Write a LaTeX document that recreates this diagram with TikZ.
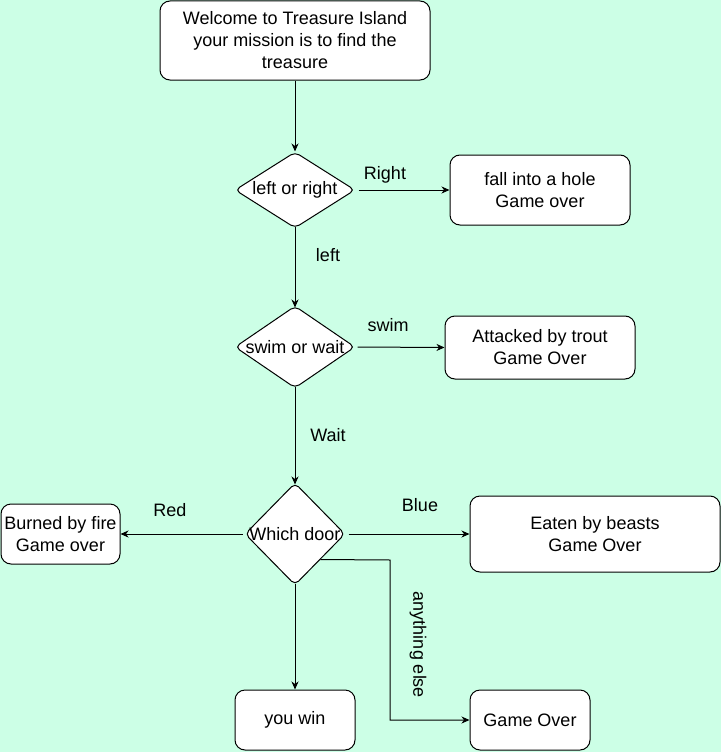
\documentclass[tikz,border=0pt]{standalone}
\usepackage{fontspec}
\setmainfont{Liberation Sans}
\usetikzlibrary{shapes.geometric,arrows.meta}
\definecolor{bgmint}{RGB}{204,255,230}
\begin{document}
\begin{tikzpicture}[x=1pt,y=-1pt,
  font=\fontsize{18}{22}\selectfont,
  box/.style={draw=black,fill=white,rounded corners=10pt,line width=1pt,align=center,inner sep=0pt},
  dec/.style={draw=black,fill=white,diamond,rounded corners=5pt,line width=1pt,inner sep=0pt},
  arr/.style={draw=black,line width=1pt,-{Stealth[length=8pt,width=7pt,inset=2.5pt]}},
  lbl/.style={inner sep=0pt}]
\fill[bgmint] (0,0) rectangle (721,752);
\useasboundingbox (0,0) rectangle (721,752);

\node[box,minimum width=270pt,minimum height=79pt] (welcome) at (295,40.5)
  {Welcome to Treasure Island\\your mission is to find the\\treasure};
\node[dec,minimum width=120pt,minimum height=76pt] (d1) at (295,190) {\makebox[0pt]{\raisebox{-1.5pt}{left or right}}};
\node[box,minimum width=180pt,minimum height=70pt] (hole) at (540,190) {fall into a hole\\Game over};
\node[dec,minimum width=120pt,minimum height=82pt] (d2) at (295,347) {\makebox[0pt]{swim or wait}};
\node[box,minimum width=190pt,minimum height=63pt] (trout) at (540,347.5) {Attacked by trout\\Game Over};
\node[dec,minimum width=100pt,minimum height=102pt] (d3) at (295,534) {\makebox[0pt]{Which door}};
\node[box,minimum width=119pt,minimum height=60pt] (fire) at (60.5,534) {Burned by fire\\Game over};
\node[box,minimum width=250pt,minimum height=76pt] (beasts) at (595,534) {Eaten by beasts\\Game Over};
\node[box,minimum width=120pt,minimum height=60pt] (win) at (295,720) {you win};
\node[box,minimum width=120pt,minimum height=60pt] (over) at (530,720) {Game Over};

\draw[arr] (welcome.south) -- (d1.north);
\draw[arr] ([xshift=3pt]d1.east) -- (hole.west);
\draw[arr] ([yshift=2pt]d1.south) -- ([yshift=-2pt]d2.north);
\draw[arr] ([xshift=2pt]d2.east) -- (trout.west);
\draw[arr] ([yshift=2pt]d2.south) -- ([yshift=-2pt]d3.north);
\draw[arr] ([xshift=-2pt]d3.west) -- (fire.east);
\draw[arr] ([xshift=3pt]d3.east) -- (beasts.west);
\draw[arr] ([yshift=2pt]d3.south) -- (win.north);
\coordinate (bend) at (390,560);
\draw[arr] (d3.-45) -- (bend) |- (over.west);

\node[lbl] (lRight) at (385,175) {Right};
\node[lbl] (lLeft) at (328,255) {left};
\node[lbl] (lSwim) at (388,325) {swim};
\node[lbl] (lWait) at (328,435) {Wait};
\node[lbl] (lRed) at (170,510) {Red};
\node[lbl] (lBlue) at (420,505) {Blue};
\node[lbl,rotate=-90] (lElse) at (418,645) {anything else};
\end{tikzpicture}
\end{document}
